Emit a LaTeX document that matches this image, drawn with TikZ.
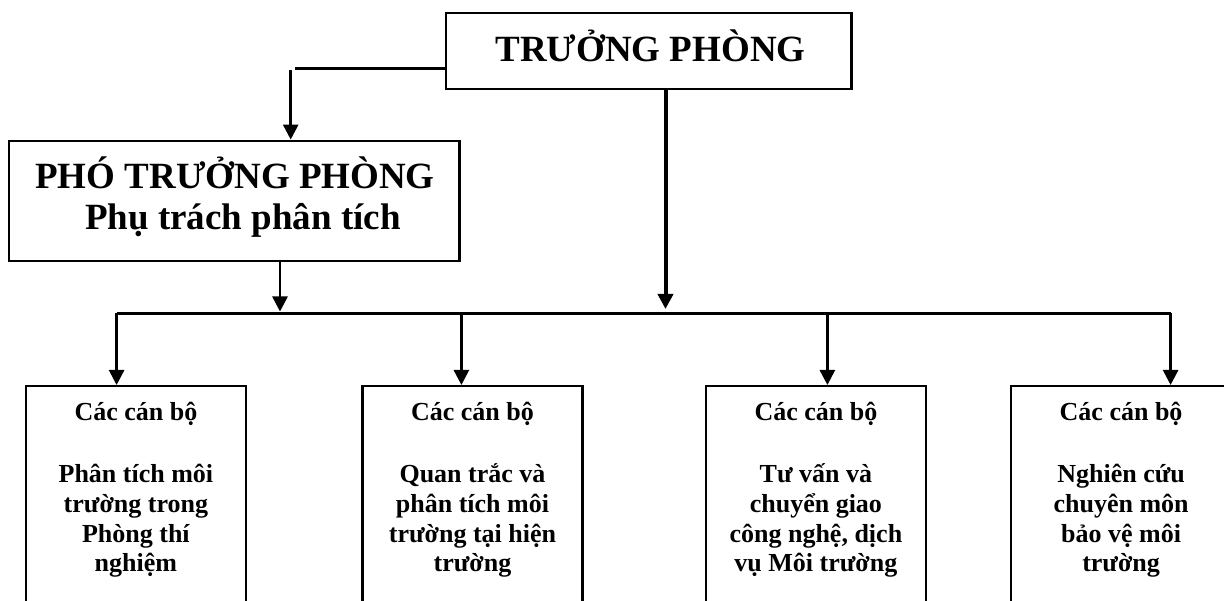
\documentclass[tikz,border=0pt]{standalone}
\usepackage{fontspec}
\setmainfont{Liberation Serif}
\usetikzlibrary{arrows.meta}
\begin{document}
\begin{tikzpicture}[x=1pt,y=-1pt,
  box/.style={draw, line width=2.2pt, rectangle, inner sep=0pt},
  conn/.style={line width=2.5pt},
  arr/.style={line width=2.6pt, -{Triangle[length=15pt,width=15pt]}},
  head/.style={font=\fontsize{26}{29.7}\selectfont\bfseries, align=center, anchor=base, inner sep=0pt},
]
\useasboundingbox (0,0) rectangle (1224,601);
\clip (0,0) rectangle (1224,601);

% top box
\node[box, minimum width=405.8pt, minimum height=76pt] (tp) at (648.6,51.3) {};
\node[font=\fontsize{37}{44}\selectfont\bfseries, anchor=base, inner sep=0pt] (tpt) at (650.5,61.7) {TRƯỞNG PHÒNG};

% deputy box
\node[box, minimum width=450.8pt, minimum height=120pt] (pho) at (234.1,200.7) {};
\node[font=\fontsize{37}{41.7}\selectfont\bfseries, align=center, anchor=base, inner sep=0pt] (phot) at (235,230) {PHÓ TRƯỞNG PHÒNG\\\hspace*{16pt}Phụ trách phân tích};

% connector top -> deputy
\coordinate (k1) at (295,68.3);
\coordinate (k2) at (290.7,70.5);
\draw[conn] (tp.west |- k1) -- (k1);
\draw[arr] (k2) -- (k2 |- pho.north);

% bus
\coordinate (bl) at (116.6,313.5);
\coordinate (br) at (1170.6,313.5);
\coordinate (bm2) at (461.4,313.5);
\coordinate (bm3) at (827.4,313.5);
\draw[conn] (bl) -- (br);

\coordinate (p1) at (280,311.5);
\coordinate (p2) at (665.5,309);
\draw[arr] (pho.south -| p1) -- (p1);
\draw[arr, line width=4pt] (tp.south -| p2) -- (p2);

% bottom boxes
\node[box, minimum width=220pt, minimum height=260pt, anchor=north] (b1) at (135.9,385) {};
\node[box, minimum width=220pt, minimum height=260pt, anchor=north] (b2) at (472.5,385) {};
\node[box, minimum width=220pt, minimum height=260pt, anchor=north] (b3) at (815.9,385) {};
\node[box, minimum width=220pt, minimum height=260pt, anchor=north] (b4) at (1121.1,385) {};

\draw[arr] (bl) -- (bl |- b1.north);
\draw[arr] (bm2) -- (bm2 |- b2.north);
\draw[arr] (bm3) -- (bm3 |- b3.north);
\draw[arr] (br) -- (br |- b4.north);

\node[head] (t1) at (135.9,571.7) {Các cán bộ\\[32.3pt]Phân tích môi\\trường trong\\Phòng thí\\nghiệm};
\node[head] (t2) at (472.5,571.7) {Các cán bộ\\[32.3pt]Quan trắc và\\phân tích môi\\trường tại hiện\\trường};
\node[head] (t3) at (815.9,571.7) {Các cán bộ\\[32.3pt]Tư vấn và\\chuyển giao\\công nghệ, dịch\\vụ Môi trường};
\node[head] (t4) at (1121.1,571.7) {Các cán bộ\\[32.3pt]Nghiên cứu\\chuyên môn\\bảo vệ môi\\trường};
\end{tikzpicture}
\end{document}
